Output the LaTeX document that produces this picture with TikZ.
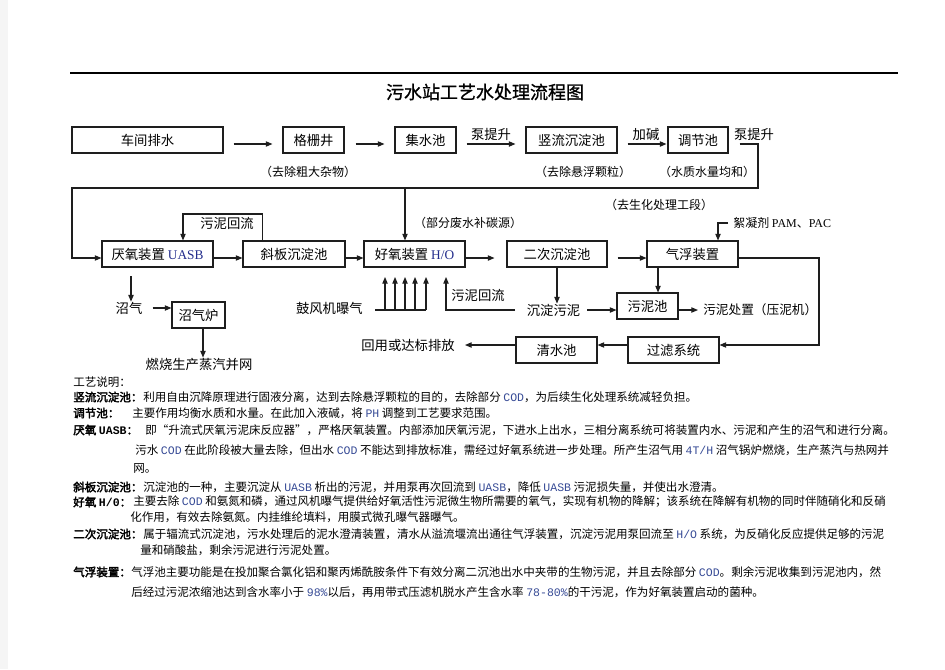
\documentclass[tikz,border=0pt]{standalone}
\usepackage{fontspec}
\setmainfont{Noto Sans CJK SC}
\newfontfamily\cjkbold[FakeBold=2.5]{Noto Sans CJK SC}
\newfontfamily\cjktitle[FakeBold=1]{Noto Sans CJK SC}
\newfontfamily\serf{Liberation Serif}
\newfontfamily\monof{Liberation Mono}
\usetikzlibrary{arrows.meta,calc}
\definecolor{latblue}{RGB}{55,75,150}
\definecolor{boxblue}{RGB}{35,45,140}
\definecolor{linec}{RGB}{30,30,30}
\newcommand\mylat[1]{{\monof\color{latblue}#1}}
\newcommand\mylatb[1]{{\monof\bfseries #1}}
\begin{document}
\begin{tikzpicture}[x=0.75pt,y=-0.75pt,
  box/.style={draw=linec,line width=0.8pt,minimum height=19.5pt,inner sep=0pt,font=\fontsize{10}{12}\selectfont},
  lbl/.style={inner sep=0pt,font=\fontsize{10}{12}\selectfont},
  captxt/.style={inner sep=0pt,font=\fontsize{9}{11}\selectfont},
  arr/.style={draw=linec,line width=0.8pt,-{Triangle[length=5pt,width=4pt]}},
  ln/.style={draw=linec,line width=0.8pt},
  para/.style={inner sep=0pt,anchor=west,font=\fontsize{8.65}{10}\selectfont},
  parab/.style={inner sep=0pt,anchor=west,font=\fontsize{8.65}{10}\selectfont\cjkbold}]
\useasboundingbox (0,0) rectangle (945,669);
\fill[white] (0,0) rectangle (945,669);
\fill[gray!8] (0,0) rectangle (8,669);
\draw[line width=0.8pt] (70,73) -- (898,73);
\node[inner sep=0pt,font=\fontsize{13.5}{16}\selectfont\cjktitle] (title) at (485,92) {污水站工艺水处理流程图};

% boxes
\node[box,minimum width=113.25pt] (n1) at (147.5,140) {车间排水};
\node[box,minimum width=45.75pt] (n2) at (313.5,140) {格栅井};
\node[box,minimum width=45.75pt] (n3) at (425.5,140) {集水池};
\node[box,minimum width=68.25pt] (n4) at (571.5,140) {竖流沉淀池};
\node[box,minimum width=45pt] (n5) at (698,140) {调节池};
\node[box,minimum width=83.25pt] (n6) at (157.5,254) {厌氧装置 {\serf\color{boxblue}UASB}};
\node[box,minimum width=76.5pt] (n7) at (294,254) {斜板沉淀池};
\node[box,minimum width=75.75pt] (n8) at (414.5,254) {好氧装置 {\serf\color{boxblue}H/O}};
\node[box,minimum width=75pt] (n9) at (557,254) {二次沉淀池};
\node[box,minimum width=68.25pt] (n10) at (692.5,254) {气浮装置};
\node[box,minimum width=68.25pt] (n11) at (673.5,350) {过滤系统};
\node[box,minimum width=60.75pt] (n12) at (556.5,350) {清水池};
\node[box,minimum width=39.75pt] (n13) at (198.5,315) {沼气炉};
\node[box,minimum width=45.75pt] (n14) at (647.5,306) {污泥池};

% labels
\node[lbl] (p1) at (491,134) {泵提升};
\node[lbl] (jj) at (646,134) {加碱};
\node[lbl] (p2) at (754,134) {泵提升};
\node[captxt] (c1) at (308,172) {（去除粗大杂物）};
\node[captxt] (c2) at (583,172) {（去除悬浮颗粒）};
\node[captxt] (c3) at (707,172) {（水质水量均和）};
\node[captxt] (c4) at (659,205) {（去生化处理工段）};
\node[captxt] (c5) at (468,223) {（部分废水补碳源）};
\node[lbl] (rf1t) at (227,223) {污泥回流};
\node[captxt,anchor=west] (fl) at (733,223) {絮凝剂 {\serf PAM}、{\serf PAC}};
\node[lbl] (zq) at (129,308) {沼气};
\node[lbl] (rs) at (199,364) {燃烧生产蒸汽并网};
\node[lbl,anchor=east] (bf) at (363,308) {鼓风机曝气};
\node[lbl] (rf2t) at (478,295) {污泥回流};
\node[lbl] (cd) at (553.5,310) {沉淀污泥};
\node[lbl,anchor=west,font=\fontsize{9.5}{11}\selectfont] (cz) at (703,310) {污泥处置（压泥机）};
\node[lbl,anchor=east] (ru) at (455,345) {回用或达标排放};

% connectors row 1
\draw[arr] ([xshift=7.5pt,yshift=-3pt]n1.east) -- ([xshift=-7.5pt,yshift=-3pt]n2.west);
\draw[arr] ([xshift=8.25pt,yshift=-3pt]n2.east) -- ([xshift=-7.5pt,yshift=-3pt]n3.west);
\draw[arr] ([xshift=7.5pt,yshift=-3pt]n3.east) -- ([xshift=-7.5pt,yshift=-3pt]n4.west);
\draw[arr] ([xshift=7.5pt,yshift=-3pt]n4.east) -- ([xshift=-0.75pt,yshift=-3pt]n5.west);
\coordinate (k1) at (758,188);
\coordinate (k2) at (72,258);
\draw[arr] ([xshift=8.25pt,yshift=-3pt]n5.east) -| (k1) -| (k2) -- ([yshift=-3pt]n6.west);

% row 2
\draw[arr] ([yshift=-3pt]n6.east) -- ([yshift=-3pt]n7.west);
\draw[arr] ([yshift=-3pt]n7.east) -- ([yshift=-3pt]n8.west);
\draw[arr] ([yshift=-3pt]n8.east) -- ([xshift=-9pt,yshift=-3pt]n9.west);
\draw[arr] ([xshift=7.5pt,yshift=-3pt]n9.east) -- ([yshift=-3pt]n10.west);
\coordinate (k3) at (183,214);
\draw[arr] ([xshift=15pt]n7.north west) |- (k3) -- (k3 |- n6.north);
\coordinate (k4) at (405,188);
\draw[arr] (k4) -- (k4 |- n8.north);
\coordinate (k5) at (718,223);
\draw[arr] ([xshift=-3.75pt]fl.west) -- (k5) -- (k5 |- n10.north);
\coordinate (k6) at (819,345);
\draw[arr] ([yshift=-3pt]n10.east) -| (k6) -- (k6 -| n11.east);
\draw[arr] (k6 -| n11.west) -- (k6 -| n12.east);
\draw[arr] (k6 -| n12.west) -- ($(ru.east)+(10,0)$);

% biogas
\coordinate (x131) at (131,276);
\draw[arr] (x131) -- (x131 |- zq.north);
\draw[arr] ([xshift=7.5pt]zq.east) -- (zq.east -| n13.west);
\coordinate (x203) at (203,328);
\draw[arr] (x203) -- (x203 |- rs.north);

% blower
\coordinate (b0) at (375,310);
\coordinate (b1) at (426,310);
\draw[ln] (b0) -- (b1);
\foreach \x in {385,395,405,415,426} \draw[arr] (\x,310) -- (\x,277);

% sludge
\coordinate (k7) at (515,310);
\coordinate (k8) at (446,277);
\draw[arr] (k7) -| (k8);
\draw[arr] (n9.south) -- (n9.south |- cd.north);
\draw[arr] ([xshift=5.25pt]cd.east) -- ([yshift=-3pt]n14.west);
\coordinate (x658) at (658,0);
\draw[arr] (x658 |- n10.south) -- (x658 |- n14.north);
\draw[arr] ([yshift=-3pt]n14.east) -- ([xshift=-3.75pt]cz.west);

% explanation
\node[para] at (73,382) {工艺说明：};
\node[parab] at (73,397) {竖流沉淀池：};
\node[para] at (143,397) {利用自由沉降原理进行固液分离，达到去除悬浮颗粒的目的，去除部分 \mylat{COD}，为后续生化处理系统减轻负担。};
\node[parab] at (73,413) {调节池：};
\node[para] at (132,413) {主要作用均衡水质和水量。在此加入液碱，将 \mylat{PH} 调整到工艺要求范围。};
\node[parab] at (73,430) {厌氧 \mylatb{UASB}：};
\node[para] at (145,430) {即“升流式厌氧污泥床反应器”，严格厌氧装置。内部添加厌氧污泥，下进水上出水，三相分离系统可将装置内水、污泥和产生的沼气和进行分离。};
\node[para] at (135,450) {污水 \mylat{COD} 在此阶段被大量去除，但出水 \mylat{COD} 不能达到排放标准，需经过好氧系统进一步处理。所产生沼气用 \mylat{4T/H} 沼气锅炉燃烧，生产蒸汽与热网并};
\node[para] at (133,468) {网。};
\node[parab] at (73,487) {斜板沉淀池：};
\node[para] at (143,487) {沉淀池的一种，主要沉淀从 \mylat{UASB} 析出的污泥，并用泵再次回流到 \mylat{UASB}，降低 \mylat{UASB} 污泥损失量，并使出水澄清。};
\node[parab] at (73,502) {好氧 \mylatb{H/0}：};
\node[para] at (133,502) {主要去除 \mylat{COD} 和氨氮和磷，通过风机曝气提供给好氧活性污泥微生物所需要的氧气，实现有机物的降解；该系统在降解有机物的同时伴随硝化和反硝};
\node[para] at (130,517) {化作用，有效去除氨氮。内挂维纶填料，用膜式微孔曝气器曝气。};
\node[parab] at (73,534) {二次沉淀池：};
\node[para] at (143,534) {属于辐流式沉淀池，污水处理后的泥水澄清装置，清水从溢流堰流出通往气浮装置，沉淀污泥用泵回流至 \mylat{H/O} 系统，为反硝化反应提供足够的污泥};
\node[para] at (140,550) {量和硝酸盐，剩余污泥进行污泥处置。};
\node[parab] at (73,572) {气浮装置：};
\node[para] at (131,572) {气浮池主要功能是在投加聚合氯化铝和聚丙烯酰胺条件下有效分离二沉池出水中夹带的生物污泥，并且去除部分 \mylat{COD}。剩余污泥收集到污泥池内，然};
\node[para] at (131,592) {后经过污泥浓缩池达到含水率小于 \mylat{98\%}以后，再用带式压滤机脱水产生含水率 \mylat{78-80\%}的干污泥，作为好氧装置启动的菌种。};
\end{tikzpicture}
\end{document}
